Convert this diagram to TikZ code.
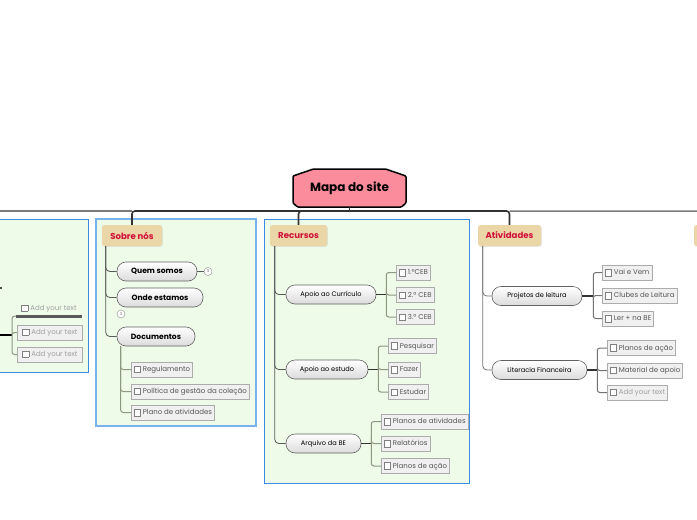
\documentclass[tikz,border=0pt]{standalone}
\usepackage{fontspec}
\setmainfont{Poppins}
\usetikzlibrary{calc,shadows}
\definecolor{panelfill}{RGB}{237,251,232}
\definecolor{panelblue}{RGB}{58,140,226}
\definecolor{panelblue2}{RGB}{120,178,236}
\definecolor{topictan}{RGB}{234,214,166}
\definecolor{topicred}{RGB}{208,16,58}
\definecolor{mainpink}{RGB}{250,140,156}
\definecolor{busdark}{RGB}{51,51,51}
\definecolor{busgray}{RGB}{122,122,122}
\definecolor{branchcol}{RGB}{90,90,90}
\definecolor{leafline}{RGB}{140,152,128}
\definecolor{cbborder}{RGB}{172,172,172}
\definecolor{cbfill}{RGB}{240,240,240}
\definecolor{cbtext}{RGB}{85,85,85}
\definecolor{cbghost}{RGB}{160,160,160}
\pgfdeclarelayer{bg}
\pgfsetlayers{bg,main}
\newcommand{\cbx}{\raisebox{-0.6pt}{\setlength{\fboxsep}{0pt}\setlength{\fboxrule}{0.5pt}\fcolorbox{gray}{white}{\rule{0pt}{6pt}\hspace{6pt}}}\hspace{2pt}}
\tikzset{
  mainnode/.style={font=\fontsize{12}{13}\selectfont\bfseries, minimum width=113pt, minimum height=38pt, inner sep=0pt},
  topic/.style={fill=topictan, text=topicred, font=\fontsize{8.6}{9.5}\selectfont\bfseries, rounded corners=2.5pt, minimum height=21pt, inner sep=0pt,
    drop shadow={opacity=0.18, shadow xshift=0.8pt, shadow yshift=-0.8pt}},
  pill/.style={draw=black!62, line width=0.6pt, top color=white, bottom color=black!14, rounded corners=9pt, minimum height=19pt, inner sep=0pt,
    font=\fontsize{6.6}{7.5}\selectfont},
  pillb/.style={pill, font=\fontsize{7.6}{8.5}\selectfont\bfseries},
  item/.style={draw=cbborder, fill=cbfill, text=cbtext, minimum height=15pt, inner xsep=2.5pt, inner ysep=0pt, anchor=west, line width=0.8pt,
    font=\fontsize{7}{8}\selectfont},
  ghost/.style={item, text=cbghost},
  plainitem/.style={text=cbghost, minimum height=15pt, inner xsep=2.5pt, inner ysep=0pt, font=\fontsize{7}{8}\selectfont},
  marker/.style={circle, draw=black!45, fill=white, minimum size=8pt, inner sep=0pt, font=\fontsize{4}{4}\selectfont, text=black!60},
  panel/.style={fill=panelfill, draw=panelblue, line width=0.8pt},
  busline/.style={draw=busdark, line width=1.6pt, rounded corners=3pt},
  busgrey/.style={draw=busgray, line width=1.5pt, rounded corners=3pt},
  branch/.style={draw=branchcol, line width=0.8pt, rounded corners=4pt},
  stem/.style={draw=busdark, line width=1.2pt},
  leaf/.style={draw=leafline, line width=1pt, rounded corners=2.5pt}
}
\begin{document}
\begin{tikzpicture}[x=1pt,y=-1pt]
\useasboundingbox (0,0) rectangle (697,520);
\begin{pgfonlayer}{bg}
\fill[white] (0,0) rectangle (697,520);
\end{pgfonlayer}
% panels
\path[panel] (-40,219) rectangle (88,372);
\path[panel, draw=panelblue2, line width=1.2pt] (96,219) rectangle (256,426);
\path[panel] (264,219) rectangle (469,483);

% central topic
\node[mainnode] (main) at (349.5,188) {Mapa do site};
\begin{pgfonlayer}{bg}
\draw[fill=mainpink, draw=black, line width=1.5pt, rounded corners=1pt]
  ([shift={(-56.5,-12)}]main.center) -- ([shift={(-36,-19)}]main.center) -- ([shift={(36,-19)}]main.center)
  -- ([shift={(56.5,-12)}]main.center) -- ([shift={(56.5,15)}]main.center) -- ([shift={(52,19)}]main.center)
  -- ([shift={(-52,19)}]main.center) -- ([shift={(-56.5,15)}]main.center) -- cycle;
\end{pgfonlayer}

% main topics
\node[topic, minimum width=60pt] (sobre) at (132,235.5) {Sobre nós};
\node[topic, minimum width=57pt] (recursos) at (298.5,235.5) {Recursos};
\node[topic, minimum width=63pt] (ativ) at (509.5,235.5) {Atividades};
\node[topic, minimum width=60pt] (nexttopic) at (724,235.5) {};

\coordinate (farleft) at (-40,211);
\coordinate (hub) at (349.5,211);
\draw[busgrey] (sobre.north |- hub) -- (farleft);
\draw[busgrey] (ativ.north |- hub) -| (nexttopic.north);
\draw[busline, rounded corners=0pt] (main.south) -- (hub);
\draw[busline] (hub) -| (sobre.north);
\draw[busline] (hub) -| (recursos.north);
\draw[busline] (hub) -| (ativ.north);

% ---------- left panel (cut off) ----------
\node[plainitem, minimum width=66pt] (addu) at (49,308.5) {\cbx Add your text};
\node[ghost, minimum width=65pt] (addl1) at (17,332.5) {\cbx Add your text};
\node[ghost, minimum width=65pt] (addl2) at (17,354.5) {\cbx Add your text};
\draw[draw=black!65, line width=2.6pt] (addu.south west) -- (addu.south east);
\coordinate (leftparent) at (-20,335);
\coordinate (leftj) at (12,335);
\coordinate (leftstub) at (-10,288);
\coordinate (leftstubend) at (1.5,288);
\draw[stem, draw=black, line width=1.3pt] (leftparent) -- (leftj);
\draw[stem, draw=black!70] (leftstub) -- (leftstubend);
\draw[leaf] (leftj) |- (addu.south west);
\draw[leaf] (leftj) |- (addl1.west);
\draw[leaf] (leftj) |- (addl2.west);

% ---------- Sobre nós ----------
\node[pillb, minimum width=80pt] (quem) at (157,271.5) {Quem somos};
\node[pillb, minimum width=86pt] (onde) at (160,297.5) {Onde estamos};
\node[pillb, minimum width=78pt] (docs) at (156,336.5) {Documentos};
\node[marker] (m1) at (208,271.5) {3};
\node[marker] (m2) at (121,314) {3};
\draw[branch] ($(sobre.south west)+(4,0)$) |- (quem.west);
\draw[branch] ($(sobre.south west)+(4,0)$) |- (onde.west);
\draw[branch] ($(sobre.south west)+(4,0)$) |- (docs.west);
\draw[branch] (quem.east) -- (m1.west);

\node[item] (reg) at (131,369.5) {\cbx Regulamento};
\node[item] (pol) at (131,391.5) {\cbx Política de gestão da coleção};
\node[item] (plano) at (131,412.5) {\cbx Plano de atividades};
\draw[stem, line width=0.9pt] ($(docs.south west)+(4,0)$) -- ($(docs.south west)+(4,8)$);
\draw[leaf] ($(docs.south west)+(4,0)$) |- (reg.west);
\draw[leaf] ($(docs.south west)+(4,0)$) |- (pol.west);
\draw[leaf] ($(docs.south west)+(4,0)$) |- (plano.west);

% ---------- Recursos ----------
\node[pill, minimum width=90pt] (apc) at (331,294.5) {Apoio ao Currículo};
\node[pill, minimum width=82pt] (ape) at (327,369.5) {Apoio ao estudo};
\node[pill, minimum width=75pt] (arq) at (323.5,443.5) {Arquivo da BE};
\draw[branch] ($(recursos.south west)+(5,0)$) |- (apc.west);
\draw[branch] ($(recursos.south west)+(5,0)$) |- (ape.west);
\draw[branch] ($(recursos.south west)+(5,0)$) |- (arq.west);

\node[item] (ceb1) at (396,272.5) {\cbx 1.ºCEB};
\node[item] (ceb2) at (396,295) {\cbx 2.º CEB};
\node[item] (ceb3) at (396,317) {\cbx 3.º CEB};
\draw[stem] (apc.east) -- ++(10,0) coordinate (jc);
\draw[leaf] (jc) |- (ceb1.west);
\draw[leaf] (jc) |- (ceb2.west);
\draw[leaf] (jc) |- (ceb3.west);

\node[item] (pesq) at (388,346) {\cbx Pesquisar};
\node[item] (fazer) at (388,369.5) {\cbx Fazer};
\node[item] (estud) at (388,392) {\cbx Estudar};
\draw[stem] (ape.east) -- ++(10,0) coordinate (je);
\draw[leaf] (je) |- (pesq.west);
\draw[leaf] (je) |- (fazer.west);
\draw[leaf] (je) |- (estud.west);

\node[item] (pativ) at (381,421.5) {\cbx Planos de atividades};
\node[item] (relat) at (381,443.5) {\cbx Relatórios};
\node[item] (pacao) at (381,466) {\cbx Planos de ação};
\draw[stem] (arq.east) -- ++(10,0) coordinate (ja);
\draw[leaf] (ja) |- (pativ.west);
\draw[leaf] (ja) |- (relat.west);
\draw[leaf] (ja) |- (pacao.west);

% ---------- Atividades ----------
\node[pill, minimum width=90pt] (proj) at (537,296) {Projetos de leitura};
\node[pill, minimum width=95pt] (lit) at (539.5,370) {Literacia Financeira};
\draw[branch, draw=black!55] ($(ativ.south west)+(5,0)$) |- (proj.west);
\draw[branch, draw=black!55] ($(ativ.south west)+(5,0)$) |- (lit.west);

\node[item] (vai) at (602,272.5) {\cbx Vai e Vem};
\node[item] (clubes) at (602,295.5) {\cbx Clubes de Leitura};
\node[item] (ler) at (602,318.5) {\cbx Ler + na BE};
\draw[stem] (proj.east) -- ++(11,0) coordinate (jp);
\draw[leaf, draw=black!55] (jp) |- (vai.west);
\draw[leaf, draw=black!55] (jp) |- (clubes.west);
\draw[leaf, draw=black!55] (jp) |- (ler.west);

\node[item] (pacao2) at (607,348) {\cbx Planos de ação};
\node[item] (mat) at (607,370.5) {\cbx Material de apoio};
\node[ghost] (add3) at (607,392.5) {\cbx Add your text};
\draw[stem] (lit.east) -- ++(10,0) coordinate (jl);
\draw[leaf, draw=black!55] (jl) |- (pacao2.west);
\draw[leaf, draw=black!55] (jl) |- (mat.west);
\draw[leaf, draw=black!55] (jl) |- (add3.west);
\end{tikzpicture}
\end{document}
